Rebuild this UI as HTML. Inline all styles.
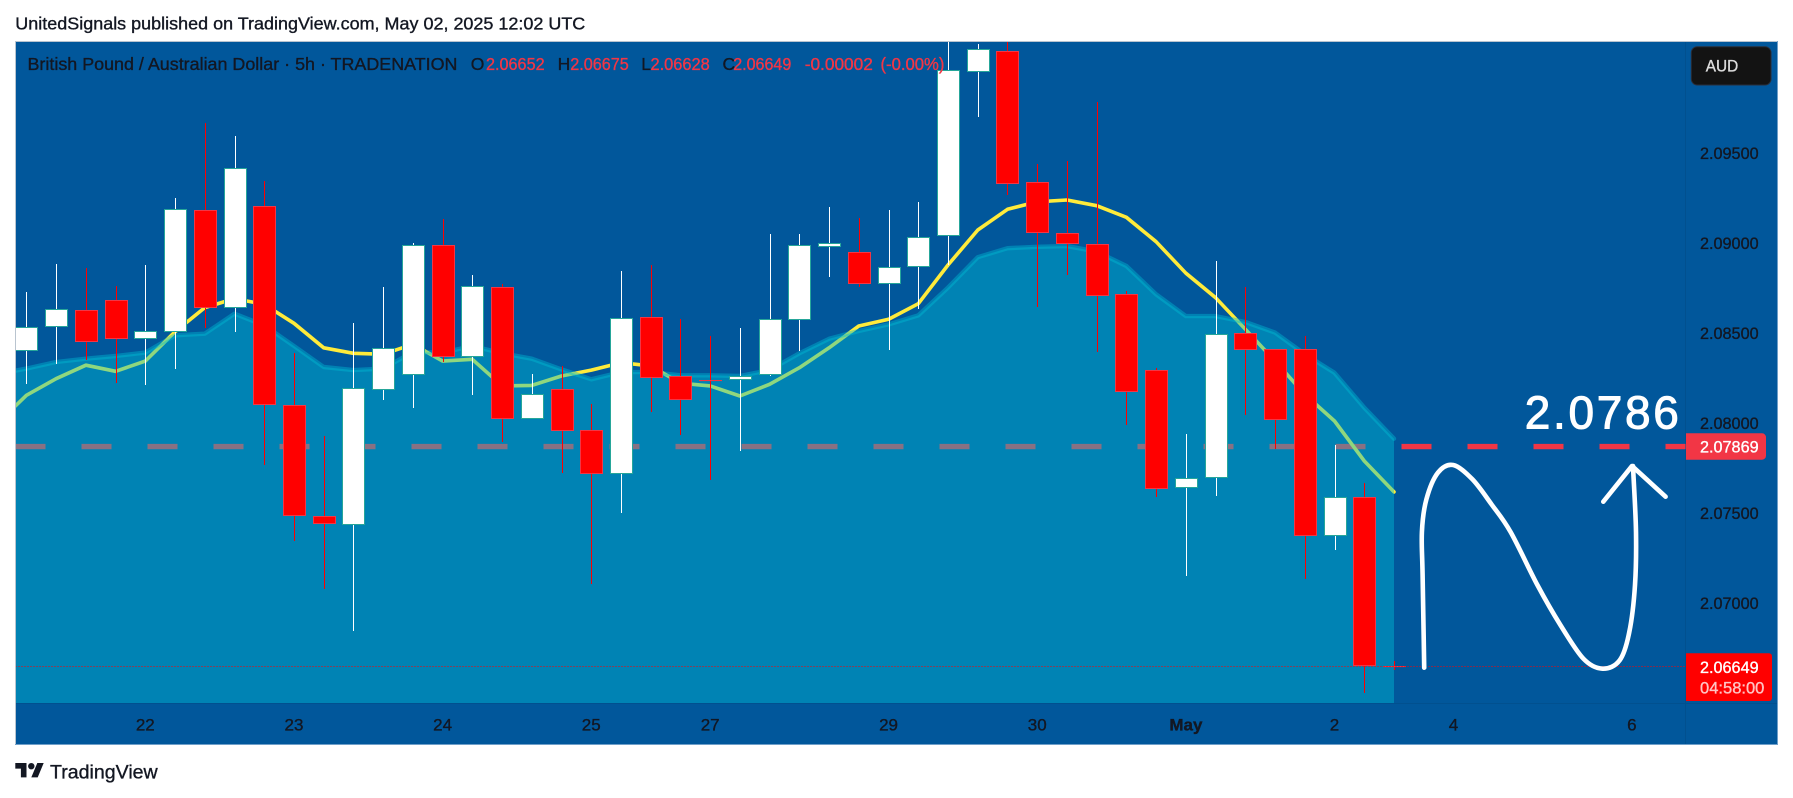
<!DOCTYPE html>
<html lang="en">
<head>
<meta charset="utf-8">
<title>GBPAUD chart</title>
<style>
html,body{margin:0;padding:0;background:#fff;width:1793px;height:798px;overflow:hidden}
svg{display:block}
text{font-family:"Liberation Sans",sans-serif;stroke-width:.35}
text[fill="#131722"]{stroke:#131722}
text[fill="#f23645"]{stroke:#f23645}
text[fill="#ffffff"]{stroke:#ffffff}
text[fill="#ffc4c4"]{stroke:#ffc4c4}
text[fill="#dddddd"]{stroke:#dddddd}
#target-annotation{stroke-width:1}
</style>
</head>
<body>
<svg id="chart" xmlns="http://www.w3.org/2000/svg" width="1793" height="798" viewBox="0 0 1793 798">
  <defs>
    <clipPath id="plot-clip"><rect x="15.5" y="41.5" width="1670" height="661.5"/></clipPath>
  </defs>
  <rect x="0" y="0" width="1793" height="798" fill="#ffffff"/>
  <text x="15.3" y="29.3" font-size="17.5" fill="#131722" textLength="570" lengthAdjust="spacingAndGlyphs">UnitedSignals published on TradingView.com, May 02, 2025 12:02 UTC</text>

  <rect x="15.5" y="41.5" width="1762" height="703" fill="#01579b"/>
  <line x1="15.5" y1="703.5" x2="1777.5" y2="703.5" stroke="#01508f" stroke-width="1"/>
  <line x1="1685.5" y1="41.5" x2="1685.5" y2="744.5" stroke="#01508f" stroke-width="1"/>

  <g id="target-line-layer" clip-path="url(#plot-clip)"></g>
  <g id="ma-layer" clip-path="url(#plot-clip)"></g>
  <g id="area-layer" clip-path="url(#plot-clip)"></g>
  <g id="candle-layer" clip-path="url(#plot-clip)"></g>
  <g id="last-price-layer"></g>

  <g fill="none" stroke="#ffffff" stroke-width="4.6" stroke-linecap="round" stroke-linejoin="round">
    <path d="M1424.2,667.7 C1423.7,636.7 1423,597.6 1422.6,575 C1422.2,552.4 1421.3,544.6 1421.9,532 C1422.5,519.4 1423.7,509.2 1426.4,499.3 C1429.1,489.4 1433.4,478.4 1437.9,472.7 C1442.4,467 1447.5,463.9 1453.2,465 C1459,466.1 1466,472.8 1472.4,479.3 C1478.8,485.9 1485.1,495.5 1491.5,504.3 C1497.9,513.1 1503,518.6 1510.6,532 C1518.3,545.5 1529.1,569.5 1537.4,585 C1545.7,600.5 1552.7,612.7 1560.4,625 C1568.1,637.3 1576.4,651.4 1583.4,658.7 C1590.4,666 1596.5,668.4 1602.5,668.7 C1608.6,669 1615.2,666.4 1619.7,660.3 C1624.2,654.2 1626.8,644.6 1629.3,632 C1631.9,619.5 1633.9,601.7 1635,585 C1636.1,568.3 1636.3,551.8 1636,532 C1635.7,512.2 1634,488 1633,466"/>
    <path d="M1603.3,501.7 L1632,466 L1665.6,496.7"/>
  </g>
  <text id="target-annotation" x="1524.8" y="428.3" font-size="46" fill="#ffffff" textLength="154" lengthAdjust="spacing">2.0786</text>

  <g font-size="17.5">
    <text x="27.5" y="70" fill="#131722" textLength="430" lengthAdjust="spacingAndGlyphs">British Pound / Australian Dollar · 5h · TRADENATION</text>
    <text x="470.7" y="70" fill="#131722">O</text>
    <text x="486" y="70" fill="#f23645" textLength="58.6" lengthAdjust="spacingAndGlyphs">2.06652</text>
    <text x="557.6" y="70" fill="#131722">H</text>
    <text x="570.2" y="70" fill="#f23645" textLength="58.6" lengthAdjust="spacingAndGlyphs">2.06675</text>
    <text x="641.3" y="70" fill="#131722">L</text>
    <text x="650.5" y="70" fill="#f23645" textLength="59.3" lengthAdjust="spacingAndGlyphs">2.06628</text>
    <text x="722.5" y="70" fill="#131722">C</text>
    <text x="733.2" y="70" fill="#f23645" textLength="58.1" lengthAdjust="spacingAndGlyphs">2.06649</text>
    <text x="804.7" y="70" fill="#f23645" textLength="68.2" lengthAdjust="spacingAndGlyphs">-0.00002</text>
    <text x="880.5" y="70" fill="#f23645" textLength="63.9" lengthAdjust="spacingAndGlyphs">(-0.00%)</text>
  </g>

  <g id="price-axis-layer"></g>
  <g id="time-axis-layer"></g>

  <g>
    <rect x="1691.3" y="46.7" width="79.7" height="38.3" rx="6" ry="6" fill="#131313" stroke="#2a2e39" stroke-width="1"/>
    <text x="1705.8" y="71.7" font-size="17" fill="#dddddd" textLength="32.5" lengthAdjust="spacingAndGlyphs">AUD</text>
  </g>

  <g>
    <path d="M1686,433.3 H1762 a4,4 0 0 1 4,4 V455.7 a4,4 0 0 1 -4,4 H1686 Z" fill="#f23645"/>
    <text x="1700" y="452.4" font-size="17" fill="#ffffff" textLength="58.6" lengthAdjust="spacingAndGlyphs">2.07869</text>
  </g>
  <g>
    <path d="M1686,653.3 H1769 a3,3 0 0 1 3,3 V698 a3,3 0 0 1 -3,3 H1686 Z" fill="#ff0000"/>
    <text x="1700" y="672.8" font-size="17" fill="#ffffff" textLength="58.6" lengthAdjust="spacingAndGlyphs">2.06649</text>
    <text x="1700" y="693.4" font-size="17" fill="#ffc4c4" textLength="64.4" lengthAdjust="spacingAndGlyphs">04:58:00</text>
  </g>

  <line x1="15" y1="41.5" x2="1778" y2="41.5" stroke="#b9c4cf" stroke-width="1"/>
  <line x1="15.5" y1="41" x2="15.5" y2="745" stroke="#b9c4cf" stroke-width="1"/>
  <line x1="1777.5" y1="41" x2="1777.5" y2="745" stroke="#6f9fc9" stroke-width="1"/>
  <line x1="15" y1="744.5" x2="1778" y2="744.5" stroke="#6f9fc9" stroke-width="1"/>

  <g>
    <g transform="translate(15.3 759.8) scale(0.8)" fill="#131722">
      <path d="M14 22H7V11H0V4h14v18zM28 22h-8l7.5-18h8L28 22z"/>
      <circle cx="20" cy="8" r="4"/>
    </g>
    <text x="50" y="778.5" font-size="19" fill="#131722" textLength="107.7" lengthAdjust="spacingAndGlyphs">TradingView</text>
  </g>
</svg>
<script>
const openPrices = [2.08404,2.08537,2.08626,2.08682,2.08471,2.08509,2.09182,2.08643,2.09204,2.08098,2.07482,2.07437,2.08187,2.08271,2.08987,2.08371,2.08756,2.08026,2.08187,2.07959,2.07724,2.08589,2.08259,2.08239,2.08243,2.08271,2.08576,2.08985,2.08948,2.08776,2.08872,2.09043,2.09954,2.10067,2.09337,2.09054,2.08993,2.08715,2.08293,2.07643,2.07698,2.08498,2.08409,2.08409,2.07376,2.07587,2.06652];
const highPrices = [2.08728,2.08883,2.08863,2.08761,2.08878,2.0925,2.09665,2.09594,2.09344,2.08387,2.07928,2.08556,2.08756,2.08998,2.09132,2.08822,2.08772,2.08272,2.08317,2.08107,2.08844,2.08878,2.08578,2.08483,2.08528,2.09048,2.09048,2.092,2.09141,2.09183,2.09228,2.102,2.10106,2.1015,2.09441,2.09456,2.09782,2.08733,2.08306,2.07939,2.089,2.08756,2.08409,2.08483,2.07878,2.07667,2.06675];
const lowPrices = [2.08218,2.08329,2.08352,2.08221,2.08213,2.08302,2.08528,2.08507,2.07767,2.07343,2.07076,2.06846,2.08128,2.08085,2.08339,2.08157,2.07896,2.08026,2.07724,2.07107,2.07502,2.08063,2.07935,2.07685,2.07846,2.08261,2.08402,2.08813,2.08757,2.08407,2.08635,2.08878,2.097,2.09267,2.08644,2.08822,2.08396,2.07991,2.07591,2.07152,2.07594,2.08043,2.07856,2.07135,2.07296,2.06498,2.06628];
const closePrices = [2.08532,2.08632,2.08454,2.08471,2.08509,2.09187,2.08643,2.09415,2.08104,2.07487,2.07443,2.08193,2.08415,2.08987,2.08371,2.08759,2.08026,2.08159,2.07959,2.07724,2.08582,2.08257,2.08132,2.08237,2.08263,2.08576,2.08987,2.08998,2.08776,2.08868,2.09035,2.09959,2.10076,2.09332,2.09059,2.08998,2.08709,2.08176,2.07637,2.07693,2.08493,2.08409,2.08021,2.07376,2.07587,2.06654,2.06649];
/* Moving average and area band start one bar before the first visible candle. */
const maValues = [2.07994,2.08154,2.08246,2.08321,2.08287,2.08344,2.08507,2.08641,2.08691,2.08659,2.08554,2.08418,2.08387,2.08382,2.08437,2.08344,2.08354,2.08206,2.08209,2.08261,2.08294,2.08335,2.08317,2.08221,2.08206,2.0815,2.08215,2.08307,2.08418,2.08539,2.08576,2.08663,2.08878,2.09072,2.09187,2.09229,2.09239,2.09207,2.09143,2.09007,2.08832,2.08696,2.08521,2.08344,2.08159,2.08011,2.07789,2.07617];
const areaValues = [2.08272,2.08302,2.08339,2.08357,2.08372,2.08391,2.08487,2.08496,2.08607,2.08543,2.08428,2.08311,2.08294,2.08302,2.08394,2.08391,2.08428,2.08387,2.08357,2.08298,2.08243,2.08283,2.08283,2.08265,2.08265,2.08261,2.08294,2.08387,2.08468,2.08511,2.08548,2.08598,2.08752,2.08921,2.08971,2.08979,2.08983,2.08952,2.08872,2.08715,2.08594,2.08594,2.08561,2.08502,2.08382,2.08279,2.08085,2.07913];
const priceTickLabels = ["2.09500","2.09000","2.08500","2.08000","2.07500","2.07000"];
const timeTickLabels = ["22","23","24","25","27","29","30","May","2","4","6"];
const timeTickBars = [4,9,14,19,23,29,34,39,44,48,54];
const targetPrice = 2.07869;
const lastPrice = 2.06649;

const SVG_NS = 'http://www.w3.org/2000/svg';
const PLOT_LEFT = 15.5;
const PLOT_BOTTOM = 703;
const AXIS_LEFT = 1685.5;
function xScale(bar) { return 26.4 + 29.73 * bar; }
function yScale(price) { return 603 + (2.07 - price) * 18000; }
function make(tag, attrs, parent) {
  const el = document.createElementNS(SVG_NS, tag);
  for (const k in attrs) el.setAttribute(k, attrs[k]);
  parent.appendChild(el);
  return el;
}

const targetLayer = document.getElementById('target-line-layer');
const targetLine = make('line', {x1: PLOT_LEFT, x2: AXIS_LEFT, y1: yScale(targetPrice), y2: yScale(targetPrice), stroke: '#f23645', 'stroke-width': 5.4, 'stroke-dasharray': '30 36'}, targetLayer);



const maPts = maValues.map(function (v, i) { return xScale(i - 1).toFixed(1) + ',' + yScale(v).toFixed(1); }).join(' ');
const maLine = make('polyline', {points: maPts, fill: 'none', stroke: '#ffeb3b', 'stroke-width': 3.6, 'stroke-linejoin': 'round', 'stroke-linecap': 'round'}, document.getElementById('ma-layer'));



const areaLayer = document.getElementById('area-layer');
const areaPts = areaValues.map(function (v, i) { return xScale(i - 1).toFixed(1) + ',' + yScale(v).toFixed(1); });
const lastX = xScale(areaValues.length - 2).toFixed(1);
const firstX = xScale(-1).toFixed(1);
const areaFill = make('polygon', {points: areaPts.join(' ') + ' ' + lastX + ',' + PLOT_BOTTOM + ' ' + firstX + ',' + PLOT_BOTTOM, fill: '#00bcd4', 'fill-opacity': 0.44}, areaLayer);


const areaEdge = make('polyline', {points: areaPts.join(' '), fill: 'none', stroke: '#00bcd4', 'stroke-opacity': 0.42, 'stroke-width': 4.4, 'stroke-linejoin': 'round', 'stroke-linecap': 'round'}, areaLayer);



const candleLayer = document.getElementById('candle-layer');
openPrices.forEach(function (open, i) {
  const close = closePrices[i];
  const up = close >= open;
  const cx = Math.round(xScale(i));
  const group = make('g', {}, candleLayer);
  
  
  const wickTop = Math.round(yScale(highPrices[i]));
  const wickBottom = Math.round(yScale(lowPrices[i]));
  const wick = make('rect', {x: cx, y: wickTop, width: 1, height: wickBottom - wickTop, fill: up ? '#ffffff' : '#ff0000'}, group);
  
  
  const top = Math.round(yScale(Math.max(open, close))) + 0.5;
  const bottom = Math.round(yScale(Math.min(open, close))) + 0.5;
  const body = make('rect', {x: cx - 10.5, y: top, width: 22, height: Math.max(bottom - top, 0.1), fill: up ? '#ffffff' : '#ff0000', stroke: up ? '#26a69a' : '#f23645', 'stroke-width': 1}, group);
  
  
});

const lastLine = make('line', {x1: PLOT_LEFT, x2: AXIS_LEFT, y1: Math.round(yScale(lastPrice)) + 0.5, y2: Math.round(yScale(lastPrice)) + 0.5, stroke: '#ff0000', 'stroke-width': 1, 'stroke-dasharray': '1 2'}, document.getElementById('last-price-layer'));



const priceAxis = document.getElementById('price-axis-layer');
priceTickLabels.forEach(function (label) {
  const t = make('text', {x: 1700, y: yScale(parseFloat(label)) + 6, 'font-size': 17, fill: '#131722', textLength: 58.6, lengthAdjust: 'spacingAndGlyphs'}, priceAxis);
  t.textContent = label;
  
  
});

const timeAxis = document.getElementById('time-axis-layer');
timeTickLabels.forEach(function (label, i) {
  const t = make('text', {x: xScale(timeTickBars[i]), y: 730.7, 'font-size': 17, fill: '#131722', 'text-anchor': 'middle', 'font-weight': label === 'May' ? 'bold' : 'normal'}, timeAxis);
  t.textContent = label;
  
  
});
</script>
</body>
</html>
